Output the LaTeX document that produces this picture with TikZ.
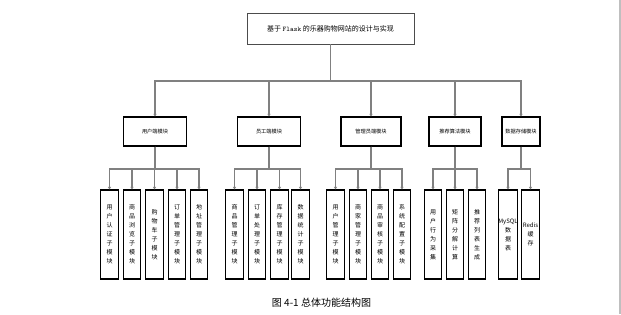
\documentclass[tikz,border=0pt]{standalone}
\usepackage{fontspec}
\newfontfamily\cjk{Noto Sans CJK SC}
\usetikzlibrary{arrows.meta}

\begin{document}
\begin{tikzpicture}[x=1pt, y=-1pt,
    topbox/.style={draw=black!70, line width=0.8pt, minimum width=167pt, minimum height=31pt,
      font=\cjk\fontsize{7}{8}\selectfont},
    modbox/.style={draw, line width=1.1pt, minimum height=29pt, inner sep=0pt,
      font=\cjk\fontsize{5.2}{6}\selectfont},
    subbox/.style={draw, line width=1.1pt, minimum width=17.5pt, minimum height=89pt, inner sep=0pt,
      align=center, font=\cjk\fontsize{6}{9}\selectfont},
    conn/.style={draw=black!50, line width=1.1pt, -{Triangle[length=2.5pt,width=3pt]}}]
      \useasboundingbox (0,0) rectangle (621,314);
      \draw[black!25, line width=1.5pt] (620,0) -- (620,314);
      % top and modules
      \node[topbox] (root) at (330.5,28.5) {基于 {\ttfamily Flask} 的乐器购物网站的设计与实现};
      \node[modbox, minimum width=63pt] (user)  at (155,131.5) {用户端模块};
      \node[modbox, minimum width=63pt] (staff) at (269,131.5) {员工端模块};
      \node[modbox, minimum width=60pt] (admin) at (371,131.5) {管理员端模块};
      \node[modbox, minimum width=52pt] (rec)   at (455,131.5) {推荐算法模块};
      \node[modbox, minimum width=38pt] (store) at (521,131.5) {数据存储模块};
      \foreach \m in {user,staff,admin,rec,store}
        \draw[conn] (root.south) |- ([yshift=35.5pt]\m.north) -- (\m.north);
      % sub modules
      \foreach \x/\t [count=\i] in {109.5/{用\\户\\认\\证\\子\\模\\块}, 132/{商\\品\\浏\\览\\子\\模\\块},
          154.5/{购\\物\\车\\子\\模\\块}, 177/{订\\单\\管\\理\\子\\模\\块}, 199/{地\\址\\管\\理\\子\\模\\块}} {
        \node[subbox] (u\i) at (\x,234.5) {\t};
        \draw[conn] (user.south) |- ([yshift=20.5pt]u\i.north) -- (u\i.north);
      }
      \foreach \x/\t [count=\i] in {234.5/{商\\品\\管\\理\\子\\模\\块}, 257/{订\\单\\处\\理\\子\\模\\块},
          279.5/{库\\存\\管\\理\\子\\模\\块}, 300.5/{数\\据\\统\\计\\子\\模\\块}} {
        \node[subbox] (e\i) at (\x,234.5) {\t};
        \draw[conn] (staff.south) |- ([yshift=20.5pt]e\i.north) -- (e\i.north);
      }
      \foreach \x/\t [count=\i] in {335.5/{用\\户\\管\\理\\子\\模\\块}, 358/{商\\家\\管\\理\\子\\模\\块},
          380/{商\\品\\审\\核\\子\\模\\块}, 402/{系\\统\\配\\置\\子\\模\\块}} {
        \node[subbox] (a\i) at (\x,234.5) {\t};
        \draw[conn] (admin.south) |- ([yshift=20.5pt]a\i.north) -- (a\i.north);
      }
      \foreach \x/\t [count=\i] in {433/{用\\户\\行\\为\\采\\集}, 455/{矩\\阵\\分\\解\\计\\算},
          477/{推\\荐\\列\\表\\生\\成}} {
        \node[subbox] (r\i) at (\x,234.5) {\t};
        \draw[conn] (rec.south) |- ([yshift=20.5pt]r\i.north) -- (r\i.north);
      }
      \foreach \x/\t [count=\i] in {508/{MySQL\\数\\据\\表}, 530.5/{Redis\\缓\\存}} {
        \node[subbox] (d\i) at (\x,234.5) {\t};
        \draw[conn] (store.south) |- ([yshift=20.5pt]d\i.north) -- (d\i.north);
      }
      \node[font=\cjk\fontsize{10}{12}\selectfont] (caption) at (321.5,303) {图 4-1 总体功能结构图};
    \end{tikzpicture}
\end{document}
